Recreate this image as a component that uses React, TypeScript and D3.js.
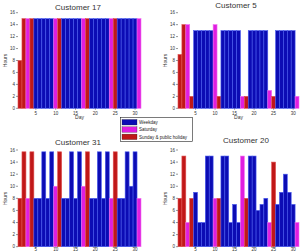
import React from 'react'
import * as d3 from 'd3'

// day type per day of month: W weekday, S saturday, H sunday / public holiday
const dayTypes = [
  'H', 'H', 'S', 'H', 'W', 'W', 'W', 'W', 'W', 'S', 'H',
  'W', 'W', 'W', 'W', 'W', 'S', 'H', 'W', 'W', 'W', 'W', 'W',
  'S', 'H', 'W', 'W', 'W', 'W', 'W', 'S',
]
const days = dayTypes.map((_, i) => i + 1)

const customer17 = [8, 15, 15, 15, 15, 15, 15, 15, 15, 15, 15, 15, 15, 15, 15, 15, 15, 15, 15, 15, 15, 15, 15, 15, 15, 15, 15, 15, 15, 15, 15]
const customer5 = [9, 14, 14, 2, 13, 13, 13, 13, 13, 14, 2, 13, 13, 13, 13, 13, 2, 2, 13, 13, 13, 13, 13, 3, 2, 13, 13, 13, 13, 13, 2]
const customer31 = [8, 15.7, 8, 15.7, 8, 8, 15.7, 8, 15.7, 10, 15.7, 8, 8, 15.7, 8, 15.7, 10, 15.7, 8, 8, 15.7, 8, 15.7, 8, 15.7, 8, 8, 15.7, 10, 15.7, 8]
const customer20 = [8, 15, 4, 8, 9, 4, 4, 15, 15, 8, 8, 15, 15, 4, 7, 4, 15, 8, 15, 15, 6, 7, 8, 4, 14, 7, 9, 12, 9, 7, 4]

const yTicks = [0, 2, 4, 6, 8, 10, 12, 14, 16]
const xTicks = [5, 10, 15, 20, 25, 30]
const legendLabels = ['Weekday', 'Saturday', 'Sunday & public holiday']

const colors = { W: '#0c0cb4', S: '#e01ee0', H: '#c01818' }
const strokes = { W: '#4a5cf0', S: '#f070f0', H: '#e05050' }
const font = 'Arial, "Liberation Sans", sans-serif'

const panels = [
  { title: 'Customer 17', data: customer17, x0: 18, x1: 141, top: 12.7, bottom: 108.3, titleX: 78, titleY: 10, tickDy: 6.5, xLabel: true },
  { title: 'Customer 5', data: customer5, x0: 178, x1: 299, top: 12.7, bottom: 108.3, titleX: 236, titleY: 8, tickDy: 6.5, xLabel: true },
  { title: 'Customer 31', data: customer31, x0: 18, x1: 141, top: 150, bottom: 246.7, titleX: 78, titleY: 145, tickDy: 3.9, xLabel: false },
  { title: 'Customer 20', data: customer20, x0: 178, x1: 299, top: 150, bottom: 246.7, titleX: 246, titleY: 143, tickDy: 3.9, xLabel: false },
]

function Panel({ p }) {
  const x = d3.scaleBand().domain(days.map(String)).range([p.x0, p.x1]).padding(0)
  const y = d3.scaleLinear().domain([0, 16]).range([p.bottom, p.top])
  const midY = (p.top + p.bottom) / 2
  return (
    <g>
      <text x={p.titleX} y={p.titleY} textAnchor="middle" fontSize={8} fill="#333" fontFamily={font}>
        {p.title}
      </text>
      {p.data.map((v, i) => (
        <rect
          key={i}
          x={x(String(days[i]))}
          y={y(v)}
          width={x.bandwidth()}
          height={y(0) - y(v)}
          fill={colors[dayTypes[i]]}
          stroke={strokes[dayTypes[i]]}
          strokeWidth={0.6}
        />
      ))}
      {/* y axis */}
      {yTicks.map((t) => (
        <g key={t}>
          <line x1={p.x0 - 2} x2={p.x0} y1={y(t)} y2={y(t)} stroke="#333" strokeWidth={0.5} />
          <text x={p.x0 - 3} y={y(t) + 1.5} textAnchor="end" fontSize={4.5} fill="#333" fontFamily={font}>
            {t}
          </text>
        </g>
      ))}
      {/* x axis */}
      {xTicks.map((t) => {
        const xp = x(String(t)) + x.bandwidth() / 2
        return (
          <g key={t}>
            <line x1={xp} x2={xp} y1={p.bottom} y2={p.bottom + 1.5} stroke="#333" strokeWidth={0.5} />
            <text x={xp} y={p.bottom + p.tickDy} textAnchor="middle" fontSize={4.5} fill="#333" fontFamily={font}>
              {t}
            </text>
          </g>
        )
      })}
      {p.xLabel && (
        <text x={(p.x0 + p.x1) / 2} y={p.bottom + 11} textAnchor="middle" fontSize={5} fill="#333" fontFamily={font}>
          Day
        </text>
      )}
      <text
        transform={`translate(${p.x0 - 11}, ${midY}) rotate(-90)`}
        textAnchor="middle"
        fontSize={5}
        fill="#333"
        fontFamily={font}
      >
        Hours
      </text>
    </g>
  )
}

export default function App() {
  const legendTypes = ['W', 'S', 'H']
  return (
    <svg
      width={304}
      height={251}
      style={{ position: 'absolute', left: 0, top: 0, background: '#fff' }}
    >
      {panels.map((p) => (
        <Panel key={p.title} p={p} />
      ))}
      <g>
        <rect x={120.5} y={117.5} width={72} height={24} fill="#fff" stroke="#222" strokeWidth={0.6} />
        {legendLabels.map((l, i) => (
          <g key={l}>
            <rect x={122} y={119.5 + i * 7.3} width={15} height={5.5} fill={colors[legendTypes[i]]} stroke="#222" strokeWidth={0.3} />
            <text x={139} y={124 + i * 7.3} fontSize={4.5} fill="#222" fontFamily={font}>
              {l}
            </text>
          </g>
        ))}
      </g>
    </svg>
  )
}
